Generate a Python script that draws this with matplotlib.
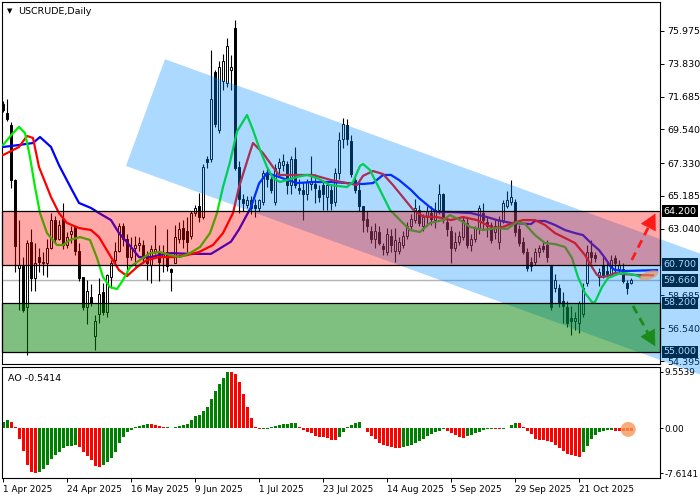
import numpy as np
import matplotlib
matplotlib.use("Agg")
import matplotlib.pyplot as plt
from matplotlib import transforms
from matplotlib.lines import Line2D
from matplotlib.patches import Polygon, Rectangle, Ellipse, FancyArrowPatch

plt.rcParams["font.family"] = "DejaVu Sans"

# daily candles, 1 Apr 2025 .. early Nov 2025 (bar index 0..157)
opens = [71.2, 70.6, 69.8, 66.2, 60.5, 60.6, 57.9, 62.2, 59.8, 61.2,
         60.9, 60.8, 61.8, 63.6, 62.4, 63.7, 62.0, 62.7, 63.2, 61.6,
         59.9, 57.9, 58.6, 56.0, 57.5, 58.9, 57.6, 59.9, 61.0, 61.6,
         63.2, 62.4, 61.2, 61.8, 62.0, 62.0, 61.3, 60.7, 61.5, 61.5,
         61.2, 61.5, 60.4, 60.8, 62.4, 63.1, 62.9, 62.6, 64.1, 64.5,
         63.8, 67.6, 67.6, 73.3, 69.5, 72.7, 72.6, 73.4, 76.2, 67.1,
         65.0, 64.6, 64.9, 64.6, 64.4, 64.8, 66.6, 66.3, 64.8, 67.0,
         67.2, 67.3, 65.9, 67.6, 65.7, 65.6, 65.3, 66.0, 66.0, 65.6,
         65.9, 65.1, 65.6, 64.8, 66.7, 68.9, 69.8, 68.8, 66.2, 65.6,
         64.5, 63.7, 62.9, 62.4, 62.8, 61.9, 61.5, 62.6, 61.6, 61.6,
         62.0, 62.6, 63.2, 63.6, 64.3, 63.2, 63.8, 64.1, 63.6, 64.3,
         65.3, 63.5, 62.9, 61.8, 62.2, 62.5, 63.4, 62.0, 62.4, 63.1,
         64.1, 63.5, 63.3, 62.8, 62.2, 63.6, 64.5, 64.8, 64.8, 63.0,
         62.2, 61.5, 60.9, 60.9, 61.5, 61.9, 62.0, 60.6, 59.2, 59.2,
         58.3, 57.9, 57.2, 57.0, 56.9, 57.5, 59.5, 61.5, 61.3, 59.9,
         60.7, 60.3, 60.1, 61.1, 60.4, 60.4, 59.5, 59.5]
highs = [71.4, 71.5, 70.0, 66.3, 63.6, 61.2, 62.3, 63.0, 62.1, 61.8,
         61.5, 62.4, 64.1, 63.9, 63.6, 64.7, 62.8, 63.2, 63.2, 62.1,
         59.9, 59.7, 59.4, 57.4, 59.8, 59.5, 60.1, 61.0, 62.2, 63.4,
         63.4, 62.7, 62.5, 62.6, 62.5, 62.3, 61.6, 62.0, 63.3, 62.0,
         62.0, 63.0, 60.5, 63.3, 63.5, 63.6, 63.8, 64.2, 64.6, 65.4,
         67.3, 67.8, 74.7, 73.4, 74.0, 74.5, 75.5, 74.4, 76.7, 67.5,
         65.3, 65.2, 65.2, 65.0, 65.0, 66.9, 67.1, 66.6, 67.3, 67.7,
         67.9, 67.5, 67.8, 68.4, 66.3, 66.1, 66.3, 67.8, 66.6, 65.9,
         66.2, 66.1, 66.0, 67.0, 69.4, 70.3, 70.2, 69.2, 66.6, 66.0,
         64.5, 64.2, 63.2, 63.4, 63.2, 62.1, 63.1, 63.0, 63.1, 62.5,
         62.9, 63.5, 64.0, 65.0, 64.6, 64.0, 64.5, 64.5, 64.8, 66.0,
         65.4, 63.8, 63.2, 62.8, 62.9, 63.8, 63.8, 62.7, 63.2, 64.6,
         64.7, 63.8, 63.5, 63.6, 63.9, 64.9, 65.5, 66.2, 65.0, 63.3,
         62.5, 61.8, 61.2, 61.8, 62.0, 62.2, 62.3, 60.7, 60.1, 59.4,
         58.9, 58.3, 58.0, 57.6, 58.3, 59.5, 62.0, 62.3, 61.5, 60.5,
         61.2, 61.0, 61.3, 61.3, 61.0, 60.8, 59.7, 59.8]
lows = [70.7, 70.1, 65.7, 60.2, 57.7, 57.6, 54.8, 59.0, 59.0, 60.2,
        60.0, 59.9, 61.7, 62.1, 62.3, 61.7, 61.8, 62.1, 61.3, 59.6,
        57.7, 56.8, 58.0, 55.1, 56.9, 57.4, 57.3, 59.2, 60.8, 61.5,
        61.9, 60.0, 61.0, 60.6, 61.6, 60.8, 59.7, 59.5, 61.4, 59.6,
        60.2, 60.3, 59.0, 60.8, 62.1, 61.8, 61.5, 62.4, 63.9, 63.5,
        63.7, 67.0, 67.4, 69.7, 69.3, 72.1, 72.3, 72.1, 66.9, 64.1,
        64.2, 64.4, 64.0, 63.8, 64.2, 64.6, 65.8, 65.4, 64.6, 66.6,
        66.8, 65.3, 65.3, 65.7, 65.3, 63.6, 64.9, 65.6, 64.7, 64.8,
        64.3, 64.3, 64.3, 64.5, 66.3, 68.3, 68.5, 66.4, 65.4, 64.2,
        62.8, 62.8, 62.1, 61.8, 62.0, 61.3, 61.3, 61.5, 60.9, 61.4,
        61.8, 62.4, 63.0, 63.4, 63.2, 62.9, 63.2, 63.3, 63.1, 64.0,
        63.4, 62.6, 60.8, 61.6, 62.0, 62.3, 61.8, 61.6, 62.2, 62.7,
        63.0, 62.5, 62.1, 62.4, 61.7, 63.4, 64.4, 64.6, 62.6, 61.9,
        61.4, 60.3, 60.3, 60.7, 61.2, 61.5, 60.9, 57.7, 58.9, 57.9,
        56.9, 56.6, 56.1, 56.4, 56.2, 57.3, 59.3, 60.8, 60.9, 59.3,
        59.8, 59.9, 59.9, 60.1, 60.2, 59.5, 58.8, 59.4]
closes = [70.8, 70.2, 66.2, 61.9, 60.7, 57.7, 62.1, 59.8, 60.8, 60.9,
          60.8, 61.8, 63.6, 62.4, 63.3, 62.0, 62.5, 62.9, 61.6, 59.8,
          57.9, 59.0, 58.2, 57.0, 58.8, 57.6, 60.0, 60.8, 61.6, 63.2,
          62.4, 61.2, 61.8, 62.0, 62.1, 61.1, 60.8, 61.7, 61.7, 60.9,
          61.5, 60.6, 60.2, 62.5, 63.0, 62.4, 62.2, 64.1, 64.4, 63.8,
          67.1, 67.4, 71.5, 69.9, 73.6, 74.0, 75.0, 73.6, 67.0, 65.0,
          64.7, 64.9, 64.4, 64.4, 64.9, 66.7, 66.3, 65.6, 67.0, 67.4,
          67.5, 65.9, 67.6, 65.9, 65.6, 65.3, 66.1, 66.1, 65.7, 65.1,
          65.3, 65.9, 64.7, 66.7, 68.85, 69.9, 68.9, 66.6, 65.6, 64.5,
          63.6, 63.2, 62.4, 62.9, 62.1, 61.7, 62.7, 62.0, 62.3, 62.2,
          62.6, 63.2, 63.7, 64.4, 63.4, 63.8, 64.2, 63.7, 64.3, 65.3,
          63.6, 63.0, 61.8, 62.2, 62.6, 63.6, 62.0, 62.4, 63.1, 64.4,
          63.6, 63.2, 62.3, 63.2, 63.6, 64.7, 64.9, 65.1, 62.8, 62.1,
          61.5, 60.5, 60.6, 61.5, 61.8, 61.7, 61.2, 57.9, 59.7, 58.2,
          58.0, 56.9, 57.0, 57.2, 58.2, 59.2, 61.5, 61.2, 61.1, 60.2,
          59.9, 60.1, 61.0, 60.8, 60.7, 59.6, 59.2, 59.66]

# Alligator lines (bar index, price)
jaw_x = [0, 4, 7.5, 9.25, 12, 14, 17, 19, 22, 24,
         27, 29, 32, 34, 37, 39, 42, 47, 52, 54,
         57, 59, 62, 64, 66, 69, 73.5, 77.5, 82, 86,
         90, 92.5, 95, 97, 99, 102, 104, 107, 108.5, 112,
         117, 121, 123.5, 127, 132, 133, 135.5, 138, 140.5, 143,
         145, 147, 149, 150.5, 152, 153, 155.5, 163.5]
jaw_y = [68.39, 68.52, 68.65, 69.04, 68.39, 67.2, 65.7, 64.73, 64.40, 64.07,
         63.61, 62.76, 61.85, 61.19, 61.19, 61.32, 61.45, 61.40, 61.40, 61.72,
         62.2, 63.0, 64.45, 66.0, 66.69, 66.43, 66.03, 66.10, 66.10, 66.03,
         65.97, 66.03, 66.56, 66.56, 66.23, 65.58, 65.05, 64.40, 64.14, 64.14,
         64.07, 63.81, 63.61, 63.42, 63.35, 63.55, 63.55, 63.29, 62.96, 62.76,
         62.63, 62.11, 61.65, 61.13, 60.54, 60.34, 60.28, 60.34]
teeth_x = [0, 4, 6, 7.5, 9, 12, 14, 16, 19, 22,
           24, 27, 29, 31, 33.5, 36, 39, 42.5, 46, 49,
           52.5, 55, 57.5, 59, 61.75, 62.5, 65, 67.5, 69, 73.5,
           77.5, 82, 86, 88.5, 90, 92.5, 95, 97.5, 100, 102.5,
           105, 108.5, 112, 115, 118.5, 120, 122.5, 125, 127.5, 130,
           133, 135.5, 138, 140.5, 143, 145.5, 147.25, 148.5, 149.75, 151.25,
           153, 155.5, 158, 162.5]
teeth_y = [67.86, 68.39, 69.11, 68.98, 67.08, 65.12, 64.07, 63.42, 63.09, 62.96,
           62.50, 61.19, 60.34, 59.95, 60.54, 61.00, 61.19, 61.19, 61.32, 61.52,
           61.98, 62.76, 64.07, 65.77, 68.06, 68.65, 67.99, 67.08, 66.56, 66.56,
           66.56, 66.23, 66.03, 65.90, 66.5, 66.82, 66.62, 65.9, 65.1, 64.3,
           63.85, 63.81, 63.61, 63.81, 63.61, 63.42, 63.09, 63.16, 63.42, 63.61,
           63.61, 63.29, 62.76, 62.44, 62.11, 61.32, 60.54, 60.02, 59.89, 59.95,
           60.15, 60.08, 60.02, 60.0]
lips_x = [0, 2.5, 4, 5.5, 6.75, 8, 9.25, 11, 13.5, 15,
          16.75, 19.25, 21.75, 23.5, 25, 26.75, 28.5, 30, 31.75, 34.25,
          36.75, 39.25, 41.75, 44.25, 46.75, 49.25, 51.75, 53.5, 55, 56.75,
          58.5, 61, 62.5, 64.25, 66, 67.5, 69.25, 73.5, 76, 78.5,
          81.75, 86, 87.5, 89.25, 90, 91.75, 94.25, 96.75, 99.25, 101.75,
          104.25, 106.75, 110, 111.75, 114.25, 116.75, 120, 123.5, 126, 128.5,
          130.5, 133, 135.5, 138, 140.5, 142.25, 143.75, 145.5, 147.25, 148,
          149.75, 151.25, 153.75, 155.5, 158, 159.25]
lips_y = [68.52, 69.30, 69.70, 69.30, 67.73, 65.77, 64.07, 62.76, 61.98, 61.98,
          62.31, 62.50, 62.31, 61.13, 59.89, 59.23, 59.10, 59.69, 60.54, 61.00,
          61.45, 61.52, 61.32, 61.19, 61.45, 61.85, 62.76, 64.07, 65.77, 67.4,
          69.4, 70.48, 69.50, 68.19, 67.08, 66.36, 66.10, 66.43, 66.56, 66.36,
          65.90, 65.77, 66.10, 67.15, 67.28, 66.88, 65.58, 64.27, 63.61, 62.96,
          62.83, 63.42, 63.61, 63.94, 63.61, 63.16, 62.96, 63.09, 63.03, 63.48,
          63.35, 62.63, 62.11, 62.04, 61.85, 61.13, 59.89, 58.84, 58.25, 58.25,
          59.23, 59.82, 60.08, 60.15, 60.02, 59.89]

# Awesome Oscillator per bar
ao = [1.13, 1.47, 1.13, 0.17, -1.81, -3.80, -6.18, -7.37, -7.61, -7.48,
      -6.92, -6.18, -5.22, -4.54, -3.97, -3.40, -3.05, -2.97, -2.92, -3.23,
      -3.97, -4.76, -5.39, -6.35, -6.63, -6.24, -5.78, -5.10, -3.97, -2.49,
      -1.53, -0.68, -0.23, 0.17, 0.45, 0.62, 0.76, 0.72, 0.57, 0.34,
      0.17, 0.19, 0.11, 0.17, 0.45, 0.62, 0.79, 1.47, 2.04, 2.32,
      2.89, 3.63, 4.99, 6.29, 7.43, 8.50, 9.5539, 9.50, 9.24, 7.82,
      5.73, 3.57, 1.76, 0.17, -0.11, -0.08, -0.05, 0.17, 0.34, 0.62,
      0.79, 0.80, 0.81, 0.82, 0.28, -0.28, -0.68, -0.85, -1.25, -1.42,
      -1.53, -1.70, -1.93, -2.04, -1.53, -0.68, 0.23, 0.6, 0.95, 1.0,
      0.05, -0.7, -1.25, -1.9, -2.5, -2.8, -3.1, -3.2, -3.3, -3.35,
      -3.2, -3.05, -2.8, -2.5, -2.2, -1.8, -1.4, -1.0, -0.7, -0.4,
      -0.2, -0.45, -0.8, -1.1, -1.5, -1.6, -1.4, -1.1, -0.85, -0.6,
      -0.35, -0.15, -0.05, -0.15, -0.2, -0.05, 0.1, 0.55, 0.95, 0.9,
      0.2, -0.4, -1.0, -1.8, -2.0, -2.05, -2.2, -2.4, -2.8, -3.3,
      -3.8, -4.3, -4.6, -4.8, -4.85, -4.0, -3.0, -1.9, -1.1, -0.7,
      -0.4, -0.36, -0.35, -0.45, -0.5, -0.52, -0.53, -0.5414]

date_ticks = [0, 16, 32, 48, 64, 80, 96, 112, 128, 144]
date_labels = ["1 Apr 2025", "24 Apr 2025", "16 May 2025", "9 Jun 2025", "1 Jul 2025",
               "23 Jul 2025", "14 Aug 2025", "5 Sep 2025", "29 Sep 2025", "21 Oct 2025"]
price_ticks = [75.975, 73.830, 71.685, 69.540, 67.330, 65.185, 63.040, 58.685, 56.540, 54.395]
ao_ticks = [9.5539, 0.0, -7.6141]
ao_tick_labels = ["9.5539", "0.00", "-7.6141"]

# levels and drawn objects
resistance = (60.7, 64.2)
support = (55.0, 58.2)
level_labels = [64.2, 60.7, 59.66, 58.2, 55.0]
last_price = 59.66
channel = [(40.5, 74.13), (209.75, 58.05), (200.0, 51.07), (30.75, 67.15)]
up_arrow = [(157.2, 61.0), (163.4, 64.2)]
down_arrow = [(157.5, 58.0), (163.4, 55.2)]

fig = plt.figure(figsize=(7, 5), dpi=100)
ax = fig.add_axes([2 / 700, 136 / 500, 658 / 700, 362 / 500])
ax2 = fig.add_axes([2 / 700, 22 / 500, 658 / 700, 111 / 500])

o = np.array(opens)
h = np.array(highs)
l = np.array(lows)
c = np.array(closes)
idx = np.arange(len(c))
up = c >= o

ax.vlines(idx, l, h, color="black", lw=0.8, zorder=2)
ax.bar(idx[up], c[up] - o[up], bottom=o[up], width=0.62, facecolor="white",
       edgecolor="black", lw=0.7, zorder=3)
ax.bar(idx[~up], o[~up] - c[~up], bottom=c[~up], width=0.62, facecolor="black",
       edgecolor="black", lw=0.7, zorder=3)

ax.plot(jaw_x, jaw_y, color="#0000ff", lw=1.6, zorder=4)
ax.plot(teeth_x, teeth_y, color="#ff0000", lw=1.6, zorder=4)
ax.plot(lips_x, lips_y, color="#00ee00", lw=1.6, zorder=4)
ax.axhline(last_price, color="#b4b4b4", lw=1, zorder=1)

ax.set_xlim(-0.25, 164.25)
ax.set_ylim(54.2, 77.87)
ax.set_xticks([])
ax.yaxis.tick_right()
ax.set_yticks(price_ticks)
ax.set_yticklabels([f"{v:.3f}" for v in price_ticks])
ax.tick_params(axis="y", length=3, width=0.7, labelsize=6.8, pad=2)
for s in ax.spines.values():
    s.set_linewidth(0.8)

right = transforms.blended_transform_factory(ax.transAxes, ax.transData)
for v in level_labels:
    ax.text(1.005, v, f"{v:.3f}", transform=right, ha="left", va="center",
            fontsize=6.8, color="white", zorder=10, clip_on=False,
            bbox=dict(boxstyle="square,pad=0.18", fc="black", ec="none"))

ax.text(0.007, 0.975, "\u25bc", transform=ax.transAxes, fontsize=5, va="center", ha="left")
ax.text(0.024, 0.975, "USCRUDE,Daily", transform=ax.transAxes, fontsize=6.8,
        va="center", ha="left")

# overlays drawn above the chart
chan = Polygon(channel, closed=True, transform=ax.transData,
               facecolor=(0.0, 0.55, 1.0, 0.33), edgecolor="none", zorder=1)
fig.add_artist(chan)
fig.add_artist(Rectangle((0, resistance[0]), 1, resistance[1] - resistance[0],
                         transform=right, facecolor=(1, 0, 0, 0.34),
                         edgecolor="black", lw=0.9, zorder=2))
fig.add_artist(Rectangle((0, support[0]), 1, support[1] - support[0],
                         transform=right, facecolor=(0, 0.5, 0, 0.5),
                         edgecolor="black", lw=0.9, zorder=2))

for pts, col in [(up_arrow, "#ff1a1a"), (down_arrow, "#1a8a1a")]:
    (x0, y0), (x1, y1) = pts
    xm, ym = x0 + 0.7 * (x1 - x0), y0 + 0.7 * (y1 - y0)
    fig.add_artist(Line2D([x0, xm], [y0, ym], transform=ax.transData, color=col,
                          lw=2, linestyle=(0, (3, 2)), zorder=3))
    fig.add_artist(FancyArrowPatch((xm, ym), (x1, y1), transform=ax.transData,
                                   arrowstyle="-|>,head_length=0.75,head_width=0.4",
                                   mutation_scale=14, lw=0.5, color=col, zorder=3))
fig.add_artist(Ellipse((0, 0), 0.2, 0.085, angle=20, facecolor=(0.95, 0.55, 0.3, 0.6),
                       edgecolor="none", zorder=3,
                       transform=fig.dpi_scale_trans + transforms.ScaledTranslation(161.5, 60.0, ax.transData)))

# AO panel
a = np.array(ao)
rising = np.r_[True, a[1:] >= a[:-1]]
ax2.bar(idx, a, width=0.75, color=np.where(rising, "#008000", "#ff0000"))
ax2.add_patch(Ellipse((0, 0), 0.15, 0.15, facecolor=(0.96, 0.6, 0.35, 0.8),
                      edgecolor="none", zorder=5,
                      transform=fig.dpi_scale_trans + transforms.ScaledTranslation(156.3, -0.2, ax2.transData)))
ax2.set_xlim(-0.25, 164.25)
ax2.set_ylim(-8.46, 10.4)
ax2.yaxis.tick_right()
ax2.set_yticks(ao_ticks)
ax2.set_yticklabels(ao_tick_labels)
ax2.set_xticks(date_ticks)
ax2.set_xticklabels(date_labels, ha="left")
ax2.tick_params(axis="x", length=3, width=0.7, labelsize=6.4, pad=2)
ax2.tick_params(axis="y", length=2, width=0.7, labelsize=6.4, pad=1.5)
for s in ax2.spines.values():
    s.set_linewidth(0.8)
ax2.text(0.009, 0.9, "AO -0.5414", transform=ax2.transAxes, fontsize=6.8, va="center")

fig.savefig("out.png", dpi=100)
